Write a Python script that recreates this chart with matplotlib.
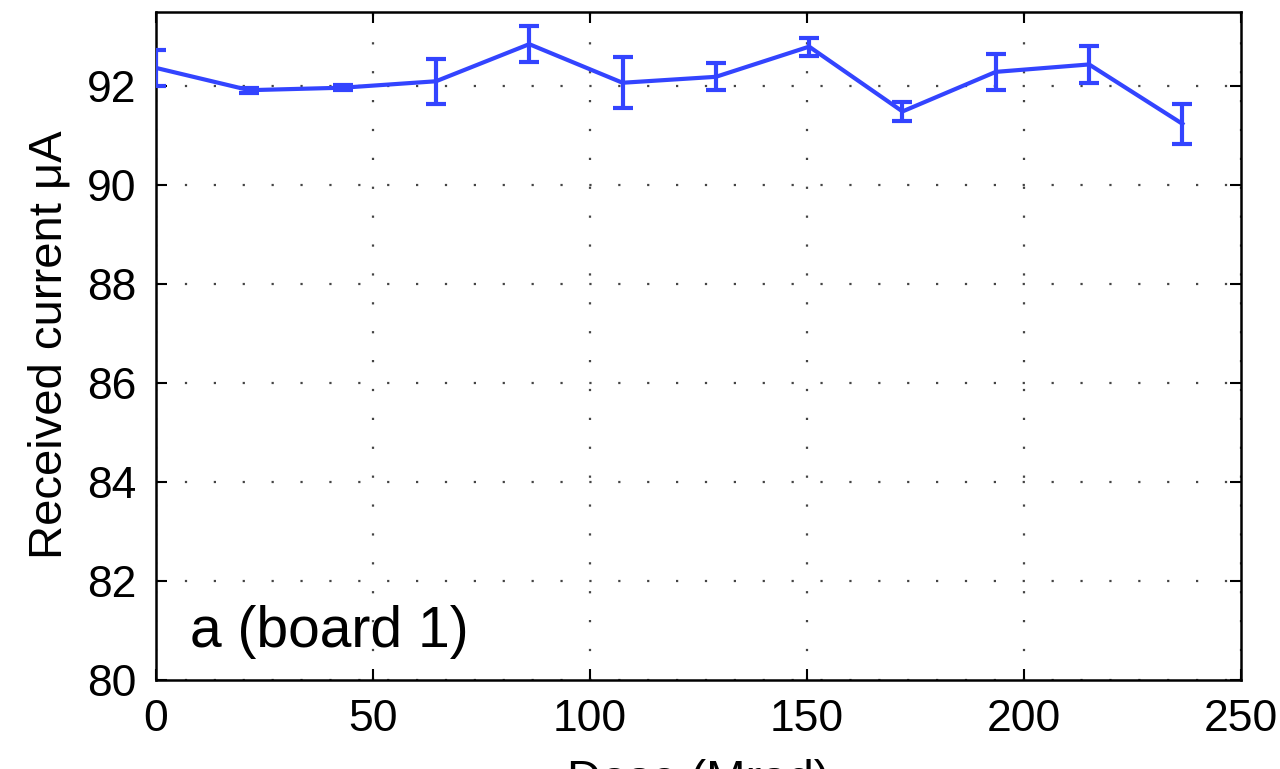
import matplotlib
matplotlib.use("Agg")
import matplotlib.pyplot as plt
import numpy as np

plt.rcParams['font.family'] = ['Liberation Sans', 'DejaVu Sans']

# Dose steps (Mrad), mean received current (uA) and its spread
dose = [0, 21.5, 43, 64.5, 86, 107.5, 129, 150.5, 172, 193.5, 215, 236.5]
current = [92.37, 91.92, 91.97, 92.10, 92.85, 92.07, 92.19, 92.80, 91.49, 92.29, 92.44, 91.24]
error = [0.37, 0.05, 0.05, 0.45, 0.36, 0.52, 0.27, 0.18, 0.20, 0.36, 0.37, 0.41]

xticks = [0, 50, 100, 150, 200, 250]
yticks = [80, 82, 84, 86, 88, 90, 92]

fig = plt.figure(figsize=(12.8, 7.69), dpi=100)
ax = fig.add_axes([156 / 1280, 1 - 680 / 769, (1241 - 156) / 1280, (680 - 12) / 769])

ax.errorbar(dose, current, yerr=error, color='#3344ff', lw=3.0,
            elinewidth=3.0, capsize=7.5, capthick=3.0, zorder=3)

ax.set_xlim(0, 250)
ax.set_ylim(80, 93.5)
ax.set_xticks(xticks)
ax.set_yticks(yticks)

ax.grid(True, color='#444444', linestyle=(0, (1, 12)), linewidth=1.6)
ax.tick_params(direction='in', length=8, width=1.5, labelsize=32,
               top=True, right=True, pad=14)
for s in ax.spines.values():
    s.set_linewidth(1.8)

ax.set_ylabel('Received current μA', fontsize=34)
ax.yaxis.set_label_coords(-0.078, 0.502)
ax.set_xlabel('Dose (Mrad)', fontsize=34)
ax.xaxis.set_label_coords(0.5, -0.118)

ax.text(0.031, 0.0494, 'a (board 1)', transform=ax.transAxes, fontsize=41,
        va='baseline', ha='left')

fig.savefig('out.png', dpi=100)
